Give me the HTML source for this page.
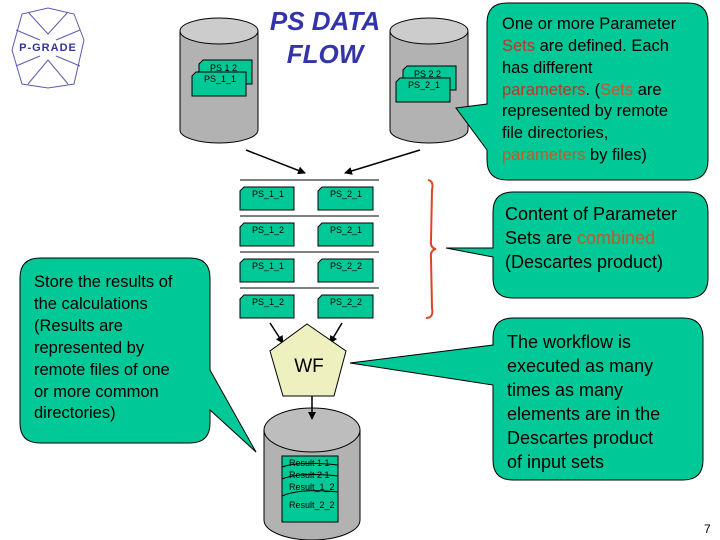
<!DOCTYPE html>
<html><head><meta charset="utf-8"><style>
body{margin:0;background:#fff;}
svg{display:block;font-family:"Liberation Sans",Arial,sans-serif;}
</style></head><body>
<svg width="720" height="540" viewBox="0 0 720 540" xmlns="http://www.w3.org/2000/svg">
<defs>
<marker id="ah" markerWidth="8" markerHeight="8" refX="7" refY="4" orient="auto" markerUnits="userSpaceOnUse"><path d="M0,0 L8,4 L0,8 z" fill="#000"/></marker>
</defs>
<!-- logo -->
<g stroke="#333399" stroke-width="1" fill="none" opacity="0.8">
<polygon points="48,8 74,14 84,40 74,84 48,88 22,84 12,50 22,14"/>
<path d="M28,12 L48,34 L68,12 M28,84 L48,60 L68,84 M16,30 L40,40 M80,30 L56,40 M16,66 L40,56 M80,66 L56,56"/>
</g>
<text x="48" y="51" font-size="11" fill="#333399" text-anchor="middle" font-weight="bold" letter-spacing="1">P-GRADE</text>
<!-- title -->
<text x="325" y="30" font-size="26" font-weight="bold" font-style="italic" fill="#3333aa" text-anchor="middle">PS DATA</text>
<text x="325" y="63" font-size="26" font-weight="bold" font-style="italic" fill="#3333aa" text-anchor="middle">FLOW</text>
<!-- cylinders -->
<g stroke="#000" stroke-width="1">
<path d="M180,31 L180,130 A39,13 0 0 0 258,130 L258,31" fill="#b2b2b2"/>
<ellipse cx="219" cy="31" rx="39" ry="13" fill="#cccccc"/>
<path d="M390,31 L390,130 A39,13 0 0 0 468,130 L468,31" fill="#b2b2b2"/>
<ellipse cx="429" cy="31" rx="39" ry="13" fill="#cccccc"/>
<path d="M264,430 L264,520 A48,20 0 0 0 360,520 L360,430" fill="#b2b2b2"/>
<ellipse cx="312" cy="430" rx="48" ry="22" fill="#bdbdbd"/>
</g>
<!-- docs in cylinders -->
<g stroke="#000" stroke-width="1" fill="#00c896" font-size="9">
<path d="M203,60 L252,60 L252,84 L199,84 L199,64 z"/>
<path d="M196,72 L246,72 L246,96 L192,96 L192,76 z"/>
<path d="M407,66 L456,66 L456,90 L403,90 L403,70 z"/>
<path d="M400,78 L450,78 L450,102 L396,102 L396,82 z"/>
</g>
<g font-size="9" fill="#000">
<text x="210" y="71">PS 1 2</text><text x="204" y="82">PS_1_1</text>
<text x="414" y="77">PS 2 2</text><text x="408" y="88">PS_2_1</text>
</g>
<!-- arrows top -->
<g stroke="#000" stroke-width="1.5">
<line x1="246" y1="150" x2="305" y2="173" marker-end="url(#ah)"/>
<line x1="420" y1="150" x2="345" y2="173" marker-end="url(#ah)"/>
<line x1="270" y1="323" x2="283" y2="343" marker-end="url(#ah)"/>
<line x1="342" y1="323" x2="330" y2="343" marker-end="url(#ah)"/>
<line x1="312" y1="396" x2="312" y2="419" marker-end="url(#ah)"/>
</g>
<!-- table -->
<g stroke="#000" stroke-width="1">
<line x1="240" y1="180" x2="379" y2="180"/><line x1="240" y1="216" x2="379" y2="216"/>
<line x1="240" y1="252" x2="379" y2="252"/><line x1="240" y1="288" x2="379" y2="288"/>
</g>
<g stroke="#000" stroke-width="1" fill="#00c896">
<path d="M244,187 L294,187 L294,210 L240,210 L240,191 z"/><path d="M322,187 L373,187 L373,210 L318,210 L318,191 z"/>
<path d="M244,223 L294,223 L294,246 L240,246 L240,227 z"/><path d="M322,223 L373,223 L373,246 L318,246 L318,227 z"/>
<path d="M244,259 L294,259 L294,282 L240,282 L240,263 z"/><path d="M322,259 L373,259 L373,282 L318,282 L318,263 z"/>
<path d="M244,295 L294,295 L294,318 L240,318 L240,299 z"/><path d="M322,295 L373,295 L373,318 L318,318 L318,299 z"/>
</g>
<g font-size="9" fill="#000">
<text x="252" y="197">PS_1_1</text><text x="330" y="197">PS_2_1</text>
<text x="252" y="233">PS_1_2</text><text x="330" y="233">PS_2_1</text>
<text x="252" y="269">PS_1_1</text><text x="330" y="269">PS_2_2</text>
<text x="252" y="305">PS_1_2</text><text x="330" y="305">PS_2_2</text>
</g>
<!-- brace -->
<path d="M428,180 Q434,181 432,190 L431,240 Q430,248 436,249 Q430,250 431,258 L432,308 Q434,318 426,318" fill="none" stroke="#dd4422" stroke-width="2"/>
<!-- pentagon -->
<polygon points="307,324 346,351 334,396 283,396 270,351" fill="#eef0c0" stroke="#000"/>
<text x="309" y="372" font-size="19" text-anchor="middle">WF</text>
<!-- result docs -->
<g stroke="#000" stroke-width="1" fill="#00c896">
<rect x="282" y="456" width="56" height="66"/>
<path d="M282,467 Q300,461 338,465 M282,479 Q300,472 338,476 M282,496 Q300,488 338,492"/>
</g>
<g font-size="9" fill="#000">
<text x="289" y="466">Result 1 1</text><text x="289" y="478">Result 2 1</text>
<text x="289" y="490">Result_1_2</text><text x="289" y="508">Result_2_2</text>
</g>
<!-- callouts -->
<g fill="#00c896" stroke="#000" stroke-width="1">
<path d="M507,3 L688,3 Q708,3 708,23 L708,160 Q708,180 688,180 L507,180 Q487,180 487,160 L487,150 L456,108 L487,104 L487,23 Q487,3 507,3 z"/>
<path d="M513,192 L688,192 Q708,192 708,212 L708,278 Q708,298 688,298 L513,298 Q493,298 493,278 L493,257 L446,248 L493,248 L493,212 Q493,192 513,192 z"/>
<path d="M513,318 L683,318 Q703,318 703,338 L703,460 Q703,480 683,480 L513,480 Q493,480 493,460 L493,385 L350,363 L493,345 L493,338 Q493,318 513,318 z"/>
<path d="M40,258 L190,258 Q210,258 210,278 L210,370 L256,452 L210,410 L210,423 Q210,443 190,443 L40,443 Q20,443 20,423 L20,278 Q20,258 40,258 z"/>
</g>
<g font-size="16.5" fill="#000">
<text x="502" y="29">One or more Parameter</text>
<text x="502" y="51"><tspan fill="#b83a24">Sets</tspan> are defined. Each</text>
<text x="502" y="73">has different</text>
<text x="502" y="95"><tspan fill="#b83a24">parameters</tspan>. (<tspan fill="#c05a2a">Sets</tspan> are</text>
<text x="502" y="116">represented by remote</text>
<text x="502" y="138">file directories,</text>
<text x="502" y="160"><tspan fill="#c05a2a">parameters</tspan> by files)</text>
</g>
<g font-size="18" fill="#000">
<text x="505" y="220">Content of Parameter</text>
<text x="505" y="244">Sets are <tspan fill="#c05a2a">combined</tspan></text>
<text x="505" y="268">(Descartes product)</text>
<text x="507" y="348">The workflow is</text>
<text x="507" y="372">executed as many</text>
<text x="507" y="396">times as many</text>
<text x="507" y="420">elements are in the</text>
<text x="507" y="444">Descartes product</text>
<text x="507" y="468">of input sets</text>
</g>
<g font-size="16.5" fill="#000">
<text x="34" y="287">Store the results of</text>
<text x="34" y="309">the calculations</text>
<text x="34" y="331">(Results are</text>
<text x="34" y="353">represented  by</text>
<text x="34" y="375">remote files of  one</text>
<text x="34" y="397">or more common</text>
<text x="34" y="418">directories)</text>
</g>
<text x="704" y="533" font-size="12" fill="#000">7</text>
</svg>
</body></html>
